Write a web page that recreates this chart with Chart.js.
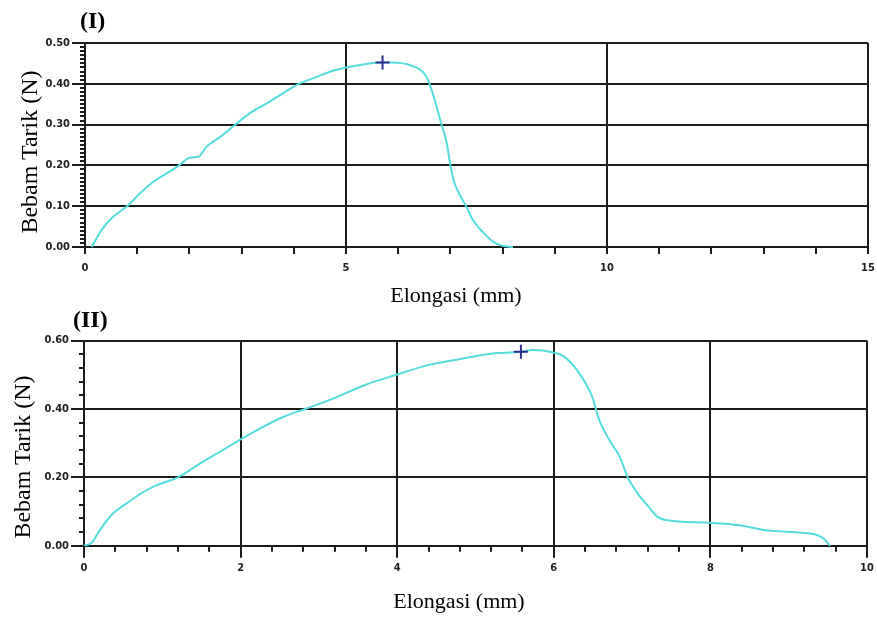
<!DOCTYPE html>
<html>
<head>
<meta charset="utf-8">
<script src="https://cdn.jsdelivr.net/npm/chart.js@4.4.1/dist/chart.umd.min.js"></script>
<style>
  html, body { margin: 0; padding: 0; background: #fff; }
  body { width: 877px; height: 617px; position: relative; overflow: hidden; }
  .wrap { position: absolute; left: 0; width: 877px; }
  .lbl { position: absolute; font-family: 'Liberation Serif', 'Times New Roman', serif; font-weight: bold; font-size: 24px; line-height: 24px; color: #000; }
  .ax { position: absolute; font-family: 'Liberation Serif', 'Times New Roman', serif; color: #000; white-space: nowrap; line-height: 1; }
  .ay { font-size: 24px; transform: translate(-50%, -50%) rotate(-90deg); }
  .axx { font-size: 22px; transform: translate(-50%, -50%); }
</style>
</head>
<body>
<div class="wrap" style="top:0;height:310px;"><canvas id="c1" width="877" height="310"></canvas></div>
<div class="wrap" style="top:310px;height:307px;"><canvas id="c2" width="877" height="307"></canvas></div>
<div class="lbl" style="left:80px;top:8px;">(I)</div>
<div class="lbl" style="left:73px;top:307px;">(II)</div>
<div class="ax ay" id="yt1" style="left:29px;top:152px;"></div>
<div class="ax axx" id="xt1" style="left:456px;top:295px;"></div>
<div class="ax ay" id="yt2" style="left:22px;top:457px;"></div>
<div class="ax axx" id="xt2" style="left:459px;top:601px;"></div>
<script>
// ---------- DATA ----------
const elongI = [0.13,0.32,0.54,0.80,1.05,1.31,1.56,1.79,2.01,2.17,2.33,2.59,2.87,3.16,3.48,3.80,4.05,4.44,4.75,5.00,5.36,5.70,5.85,6.22,6.50,6.60,6.70,6.83,6.93,7.00,7.07,7.20,7.30,7.43,7.64,7.83,8.00,8.20];
const loadI  = [0.000,0.042,0.074,0.099,0.131,0.160,0.180,0.199,0.219,0.221,0.246,0.270,0.299,0.328,0.352,0.377,0.397,0.417,0.432,0.440,0.448,0.452,0.452,0.446,0.425,0.400,0.360,0.300,0.255,0.200,0.160,0.123,0.100,0.066,0.034,0.012,0.003,0.000];
const peakI = [5.70, 0.452];

const elongII = [0.00,0.10,0.20,0.37,0.54,0.76,0.93,1.05,1.20,1.48,1.73,1.98,2.25,2.55,2.84,3.18,3.59,3.98,4.39,4.79,5.15,5.58,5.73,5.99,6.13,6.31,6.49,6.58,6.71,6.85,6.94,7.07,7.21,7.32,7.43,7.99,8.37,8.68,9.08,9.32,9.44,9.53];
const loadII  = [0.000,0.009,0.045,0.094,0.123,0.157,0.177,0.187,0.200,0.240,0.274,0.308,0.343,0.377,0.401,0.430,0.470,0.499,0.528,0.545,0.560,0.567,0.572,0.565,0.553,0.509,0.436,0.368,0.309,0.256,0.202,0.153,0.114,0.085,0.075,0.067,0.060,0.046,0.039,0.034,0.022,0.000];
const peakII = [5.58, 0.567];

const xTicksI = [0, 5, 10, 15];
const yTicksI = [0.00, 0.10, 0.20, 0.30, 0.40, 0.50];
const xTicksII = [0, 2, 4, 6, 8, 10];
const yTicksII = [0.00, 0.20, 0.40, 0.60];

const xTitle = 'Elongasi (mm)';
const yTitle = 'Bebam Tarik (N)';

document.getElementById('yt1').textContent = yTitle;
document.getElementById('yt2').textContent = yTitle;
document.getElementById('xt1').textContent = xTitle;
document.getElementById('xt2').textContent = xTitle;

// ---------- STYLE ----------
const LINE = '#55dcdc';
const MARK = '#2e2e92';
const GRID = '#1c1c1c';
const tickFont = { family: "'Liberation Sans Narrow', 'DejaVu Sans Condensed', sans-serif", size: 11, weight: 'bold' };

const minorTicks = {
  id: 'minorTicks',
  afterDatasetsDraw(chart, args, opts) {
    const ctx = chart.ctx;
    ctx.save();
    ctx.strokeStyle = GRID;
    ctx.lineWidth = 2;
    const xs = chart.scales.x, ys = chart.scales.y;
    const ca = chart.chartArea;
    for (let i = 0; ; i++) {
      const v = xs.min + i * opts.xStep;
      if (v > xs.max + 1e-9) break;
      const p = Math.round(xs.getPixelForValue(v));
      ctx.beginPath(); ctx.moveTo(p, ca.bottom); ctx.lineTo(p, ca.bottom + opts.xLen); ctx.stroke();
    }
    for (let i = 0; ; i++) {
      const v = ys.min + i * opts.yStep;
      if (v > ys.max + 1e-9) break;
      const p = Math.round(ys.getPixelForValue(v));
      ctx.beginPath(); ctx.moveTo(ca.left, p); ctx.lineTo(ca.left - opts.yLen, p); ctx.stroke();
    }
    ctx.restore();
  }
};

function makeChart(id, xs, ys, peak, xTicks, yTicks, cfg) {
  const pts = xs.map((x, i) => ({ x: x, y: ys[i] }));
  return new Chart(document.getElementById(id), {
    type: 'line',
    data: {
      datasets: [
        { type: 'scatter', data: [{ x: peak[0], y: peak[1] }], pointStyle: 'cross', pointRadius: 7, borderColor: MARK, backgroundColor: MARK, borderWidth: 2, clip: false },
        { data: pts, borderColor: LINE, borderWidth: 2, pointRadius: 0, tension: 0.35, cubicInterpolationMode: 'monotone', fill: false, clip: false }
      ]
    },
    options: {
      responsive: false,
      animation: false,
      events: [],
      layout: { padding: { top: cfg.padTop, right: cfg.padRight, left: 0, bottom: 0 } },
      plugins: { legend: { display: false }, tooltip: { enabled: false }, title: { display: false }, minorTicks: cfg.minor },
      scales: {
        x: {
          type: 'linear', min: xTicks[0], max: xTicks[xTicks.length - 1],
          afterBuildTicks: s => { s.ticks = xTicks.map(v => ({ value: v })); },
          afterFit: s => { s.height = cfg.xHeight; s.paddingLeft = 0; s.paddingRight = 0; },
          ticks: { font: tickFont, color: '#222', padding: cfg.xTickPad, maxRotation: 0, callback: v => String(v) },
          grid: { color: GRID, lineWidth: 2, tickLength: cfg.xTickLen, tickColor: GRID },
          border: { display: true, color: GRID, width: 2 },
          title: { display: false }
        },
        y: {
          type: 'linear', min: yTicks[0], max: yTicks[yTicks.length - 1],
          afterBuildTicks: s => { s.ticks = yTicks.map(v => ({ value: v })); },
          afterFit: s => { s.width = cfg.yWidth; s.paddingTop = 0; s.paddingBottom = 0; },
          ticks: { font: tickFont, color: '#222', padding: 2, callback: v => Number(v).toFixed(2) },
          grid: { color: GRID, lineWidth: 2, tickLength: 13, tickColor: GRID },
          border: { display: true, color: GRID, width: 2 },
          title: { display: false }
        }
      }
    },
    plugins: [minorTicks]
  });
}

makeChart('c1', elongI, loadI, peakI, xTicksI, yTicksI, {
  padTop: 43, padRight: 9, xHeight: 63, yWidth: 85, xTickPad: 8, xTickLen: 7,
  minor: { xStep: 1, yStep: 0.01, xLen: 7, yLen: 5 }
});
makeChart('c2', elongII, loadII, peakII, xTicksII, yTicksII, {
  padTop: 30.5, padRight: 10, xHeight: 71.3, yWidth: 84, xTickPad: 4, xTickLen: 12,
  minor: { xStep: 0.4, yStep: 0.04, xLen: 6, yLen: 5 }
});
</script>
</body>
</html>
